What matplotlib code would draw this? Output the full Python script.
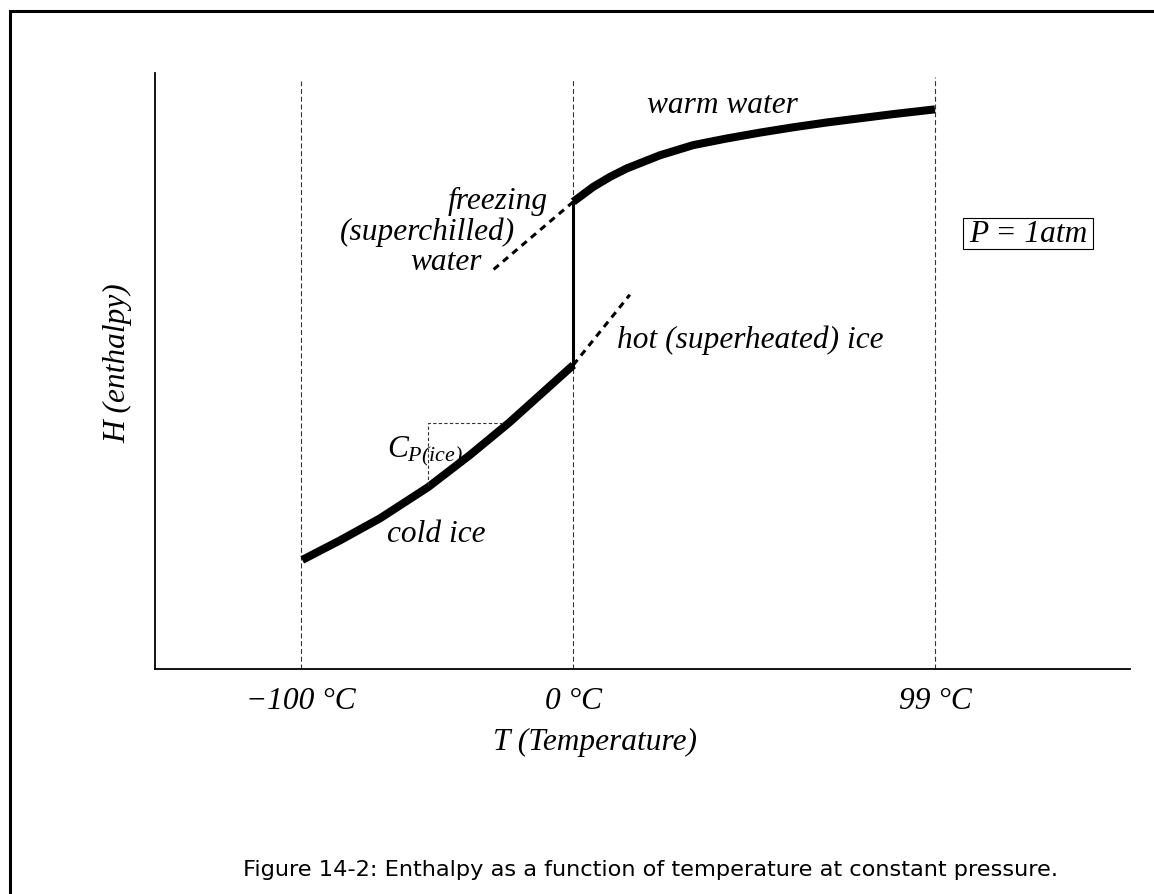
import matplotlib
matplotlib.use("Agg")
import matplotlib.pyplot as plt
from matplotlib.lines import Line2D
from matplotlib.patches import Rectangle

# 字体：Times 风格的斜体
plt.rcParams['font.family'] = ['Liberation Serif', 'DejaVu Serif']
plt.rcParams['mathtext.fontset'] = 'custom'
plt.rcParams['mathtext.it'] = 'Liberation Serif:italic'
plt.rcParams['mathtext.rm'] = 'Liberation Serif:italic'

# 示意图数据（横纵轴都是 0-100 的示意单位）
ice_T = [15.1, 19.0, 23.1, 28.0, 32.3, 36.3, 39.5, 42.9]
ice_H = [18.3, 21.6, 25.3, 30.5, 35.9, 41.3, 46.0, 51.0]
water_T = [42.9, 44.95, 46.7, 48.4, 51.8, 55.2, 58.6, 62.05, 65.5, 68.9, 72.3, 75.7, 80.0]
water_H = [78.4, 80.9, 82.6, 84.0, 86.2, 87.9, 89.0, 90.0, 90.9, 91.7, 92.4, 93.1, 93.9]
superchilled_T = [42.9, 34.7]
superchilled_H = [78.4, 67.0]
superheated_T = [42.9, 48.7]
superheated_H = [51.0, 62.8]
melt_T = 42.9
cp_T = [28.0, 28.0, 35.9]
cp_H = [30.9, 41.3, 41.3]
tick_T = [15.0, 42.9, 80.0]
tick_top = [98.6, 99.2, 99.4]
tick_labels = ['\u2212100 °C', '0 °C', '99 °C']

caption = "Figure 14-2: Enthalpy as a function of temperature at constant pressure."

fig = plt.figure(figsize=(11.54, 8.94), dpi=100)
ax = fig.add_axes([155 / 1154, 1 - 669 / 894, 975 / 1154, 596 / 894])
ax.set_xlim(0, 100)
ax.set_ylim(0, 100)

# 坐标轴只保留左边和下边
ax.spines['top'].set_visible(False)
ax.spines['right'].set_visible(False)
ax.spines['left'].set_linewidth(1.3)
ax.spines['bottom'].set_linewidth(1.3)
ax.set_yticks([])
fs = 22.6
ax.set_xticks(tick_T, tick_labels, fontsize=fs, style='italic')
ax.tick_params(axis='x', length=0, pad=13)

# 竖直虚线
for t, top in zip(tick_T, tick_top):
    ax.plot([t, t], [0, top], color='#333333', lw=0.8, dashes=(4.5, 2.5))

# 主曲线
ax.plot(ice_T, ice_H, color='k', lw=5.8, solid_capstyle='butt', solid_joinstyle='round')
ax.plot(water_T, water_H, color='k', lw=5.8, solid_capstyle='butt', solid_joinstyle='round')
ax.plot([melt_T, melt_T], [ice_H[-1], water_H[0]], color='k', lw=2.2)

# 过冷 / 过热 延长线
ax.plot(superchilled_T, superchilled_H, color='k', lw=2.2, dashes=(2.2, 1.8))
ax.plot(superheated_T, superheated_H, color='k', lw=2.2, dashes=(2.2, 1.8))

# Cp 的小三角
ax.plot(cp_T, cp_H, color='#333333', lw=0.8, dashes=(3, 2))

# 文字标注
ax.text(58.15, 93.3, 'warm water', ha='center', va='baseline', fontsize=fs, style='italic')
ax.text(40.3, 77.2, 'freezing', ha='right', va='baseline', fontsize=fs, style='italic')
ax.text(36.9, 72.0, '(superchilled)', ha='right', va='baseline', fontsize=fs, style='italic')
ax.text(33.5, 67.0, 'water', ha='right', va='baseline', fontsize=fs, style='italic')
ax.text(47.4, 53.9, 'hot (superheated) ice', ha='left', va='baseline', fontsize=fs, style='italic')
ax.text(23.8, 21.3, 'cold ice', ha='left', va='baseline', fontsize=fs, style='italic')
ax.text(23.8, 35.6, r'$C_{P(ice)}$', ha='left', va='baseline', fontsize=fs)

ax.text(89.55, 71.6, 'P = 1atm', ha='center', va='baseline', fontsize=fs, style='italic')
ax.add_patch(Rectangle((82.9, 70.5), 13.3, 5.2, fill=False, lw=0.8, color='k', clip_on=False))

ax.text(45.1, -13.6, 'T (Temperature)', ha='center', va='baseline', fontsize=fs, style='italic')
ax.text(-3.8, 51.3, 'H (enthalpy)', rotation=90, ha='center', va='center', fontsize=fs, style='italic')

# 外框（上边和左边）
fig.add_artist(Line2D([9.5 / 1154, 9.5 / 1154, 1], [0, 1 - 10.5 / 894, 1 - 10.5 / 894],
                      transform=fig.transFigure, color='k', lw=2.2, solid_joinstyle='miter'))

# 图注
fig.text(243 / 1154, 1 - 876 / 894, caption, ha='left', va='baseline',
         fontsize=16.2, family='DejaVu Sans')

plt.savefig("out.png", dpi=100)
